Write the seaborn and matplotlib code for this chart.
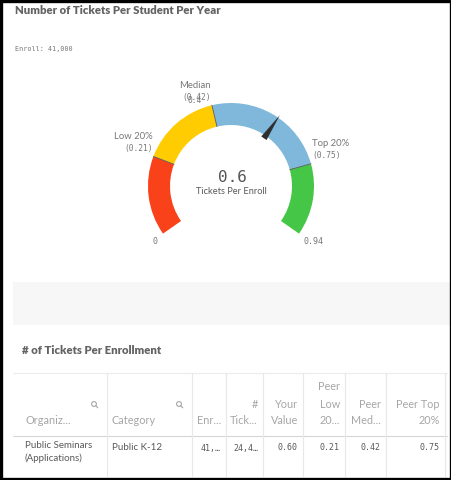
import numpy as np
import matplotlib
matplotlib.use("Agg")
import matplotlib.pyplot as plt
from matplotlib.patches import Wedge, Polygon, Rectangle, Circle
import seaborn as sns

# chart data
title = "Number of Tickets Per Student Per Year"
enroll_label = "Enroll: 41,000"
gauge_bounds = [0, 0.21, 0.42, 0.75, 0.94]
band_colors = ["#f9411a", "#ffcc02", "#7fb8da", "#46c646"]
marker_names = ["Low 20%", "Median", "Top 20%"]
marker_values = [0.21, 0.42, 0.75]
value = 0.6
value_label = "Tickets Per Enroll"

table_title = "# of Tickets Per Enrollment"
col_headers = [["Organiz..."], ["Category"], ["Enr..."], ["#", "Tick..."],
               ["Your", "Value"], ["Peer", "Low", "20..."], ["Peer", "Med..."],
               ["Peer Top", "20%"]]
row_values = ["Public Seminars\n(Applications)", "Public K-12", "41,\u2026", "24,4\u2026",
              "0.60", "0.21", "0.42", "0.75"]
col_align = ["left", "left", "right", "right", "right", "right", "right", "right"]
col_search = [True, True, False, False, False, False, False, False]

sns.set_theme(style="white")
plt.rcParams["font.family"] = ["Lato", "DejaVu Sans"]
MONO = "DejaVu Sans Mono"
GREY = "#777777"

fig = plt.figure(figsize=(4.52, 4.80), dpi=100)
ax = fig.add_axes([0, 0, 1, 1])
ax.set_xlim(0, 452)
ax.set_ylim(480, 0)
ax.set_aspect("equal")
ax.axis("off")

# panels
ax.add_patch(Rectangle((13, 282), 437, 43, color="#f7f7f7", lw=0))
ax.add_patch(Rectangle((1, 1), 450, 478, fill=False, ec="black", lw=2.4))

# header texts
ax.text(15, 11, title, fontsize=8.2, fontweight="heavy", color="#636363", va="center")
ax.text(15, 49, enroll_label, fontsize=4.9, color=GREY, va="center", family=MONO)

# gauge
cx, cy, r_out, thick = 231, 186, 83, 22
span = 125
vmin, vmax = gauge_bounds[0], gauge_bounds[-1]


def phi(v):
    return -span + 2 * span * (v - vmin) / (vmax - vmin)


def pt(v, r):
    a = np.radians(phi(v))
    return cx + r * np.sin(a), cy - r * np.cos(a)


for lo, hi, col in zip(gauge_bounds[:-1], gauge_bounds[1:], band_colors):
    ax.add_patch(Wedge((cx, cy), r_out, phi(lo) - 90, phi(hi) - 90,
                       width=thick, color=col, lw=0))

for v in marker_values:
    x0, y0 = pt(v, r_out - thick)
    x1, y1 = pt(v, r_out)
    ax.plot([x0, x1], [y0, y1], color="#5a5a5a", lw=0.6)

for name, v in zip(marker_names, marker_values):
    x, y = pt(v, r_out)
    ha = "right" if phi(v) < 0 else "left"
    x = x + (1 if ha == "left" else -1)
    ax.text(x, y - 8, f"({v:.2f})", ha=ha, va="center", fontsize=5.7, color=GREY, family=MONO)
    ax.text(x, y - 20, name, ha=ha, va="center", fontsize=6.8, color=GREY)

# overlapping scale label near the median
xm, ym = pt(marker_values[1], r_out)
ax.text(xm - 10, ym - 5, f"{marker_values[1]:.1f}", ha="right", va="center",
        fontsize=5.7, color=GREY, family=MONO)

# min / max
x, y = pt(vmin, r_out)
ax.text(x - 6, y + 3, f"{vmin:g}", ha="right", va="top", fontsize=6, color=GREY, family=MONO)
x, y = pt(vmax, r_out)
ax.text(x + 5, y + 3, f"{vmax:g}", ha="left", va="top", fontsize=6, color=GREY, family=MONO)

# needle
a = np.radians(phi(value))
tip = pt(value, 86)
base_c = np.array(pt(value, 58))
perp = np.array([np.cos(a), np.sin(a)]) * 3.2
ax.add_patch(Polygon([tip, base_c + perp, base_c - perp], closed=True, color="#2f2f2f", lw=0))

ax.text(cx + 1, 177, f"{value:g}", ha="center", va="center", fontsize=11.5,
        color="#555555", family=MONO)
ax.text(cx, 191, value_label, ha="center", va="center", fontsize=6.7, color="#595959")

# table
ax.text(22, 350, table_title, fontsize=8.2, fontweight="heavy", color="#636363", va="center")
col_edges = [13, 107, 192, 226, 263, 303, 345, 386, 445]
top, head_bot, bottom = 373, 436, 476
ax.plot([13, 447], [top, top], color="#ececec", lw=0.8)
ax.plot([13, 447], [head_bot, head_bot], color="#d6d6d6", lw=0.8)
for xe in col_edges[1:]:
    ax.plot([xe, xe], [top, bottom], color="#e8e8e8", lw=0.8)

line_y = [421, 404, 386]
for i, (hdr, val, al) in enumerate(zip(col_headers, row_values, col_align)):
    left, right = col_edges[i], col_edges[i + 1]
    tx = left + 5 if al == "left" else right - 5
    for j, s in enumerate(reversed(hdr)):
        ax.text(tx + (8 if i == 0 else 0), line_y[j], s, ha=al, va="center",
                fontsize=7.8, color="#a6a6a6")
    if "\n" in val:
        ax.text(tx + 7, 441, val, ha=al, va="top", fontsize=7, color="#595959", linespacing=1.45)
    elif i >= 2:
        ax.text(tx, 448, val, ha=al, va="center", fontsize=6, color="#595959", family=MONO)
    else:
        ax.text(tx, 448, val, ha=al, va="center", fontsize=7, color="#595959")
    if col_search[i]:
        sx, sy = right - 13, 404
        ax.add_patch(Circle((sx, sy), 2.4, fill=False, ec="#a6a6a6", lw=0.8))
        ax.plot([sx + 1.7, sx + 3.8], [sy + 1.7, sy + 3.8], color="#a6a6a6", lw=0.8)

fig.savefig("out.png", dpi=100)
